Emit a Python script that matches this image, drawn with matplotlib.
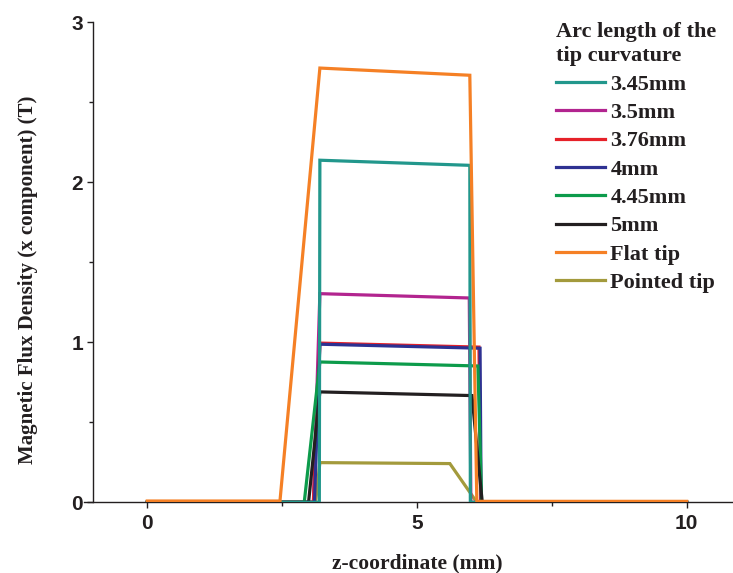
import matplotlib
matplotlib.use("Agg")
import matplotlib.pyplot as plt
from matplotlib.ticker import MultipleLocator

# ---- data ----
labels = ["3.45mm", "3.5mm", "3.76mm", "4mm", "4.45mm", "5mm", "Flat tip", "Pointed tip"]
colors = ["#22978c", "#b2248f", "#e62129", "#2e3192", "#0c9b4b", "#231f20", "#f58025", "#a39a3c"]

x_345 = [0, 3.19, 3.20, 5.98, 5.99, 10]
y_345 = [0, 0, 2.138, 2.106, 0, 0]
x_35 = [0, 3.08, 3.20, 5.97, 6.00, 10]
y_35 = [0, 0, 1.304, 1.277, 0, 0]
x_376 = [0, 3.08, 3.20, 6.15, 6.18, 10]
y_376 = [0, 0, 0.995, 0.970, 0, 0]
x_4 = [0, 3.10, 3.20, 6.17, 6.19, 10]
y_4 = [0, 0, 0.988, 0.963, 0, 0]
x_445 = [0, 2.91, 3.20, 6.13, 6.20, 10]
y_445 = [0, 0, 0.877, 0.852, 0, 0]
x_5 = [0, 2.99, 3.20, 6.02, 6.21, 10]
y_5 = [0, 0, 0.690, 0.667, 0, 0]
x_flat = [0, 2.46, 3.20, 5.98, 6.11, 10]
y_flat = [0.008, 0.008, 2.714, 2.669, 0.006, 0.006]
x_point = [0, 3.12, 3.20, 5.61, 6.11, 10]
y_point = [0, 0, 0.248, 0.242, 0, 0]

series_x = [x_345, x_35, x_376, x_4, x_445, x_5, x_flat, x_point]
series_y = [y_345, y_35, y_376, y_4, y_445, y_5, y_flat, y_point]
zorders = [4, 3, 3, 3.1, 3.2, 3.3, 5, 2.9]

W, H = 733, 573
fig = plt.figure(figsize=(W / 100, H / 100), dpi=100)
ax = fig.add_axes([84.3 / W, 70.7 / H, (W - 84.3) / W, 480 / H])

for xs, ys, c, lab, z in zip(series_x, series_y, colors, labels, zorders):
    ax.plot(xs, ys, color=c, lw=2.3, label=lab, zorder=z, solid_joinstyle="miter")

ax.set_xlim(-1.168, 10.86)
ax.set_ylim(0, 3)

for s in ["top", "right"]:
    ax.spines[s].set_visible(False)
ax.spines["left"].set_position(("data", -1.0))
for s in ["left", "bottom"]:
    ax.spines[s].set_linewidth(1.0)
    ax.spines[s].set_color("#231f20")

ax.xaxis.set_major_locator(MultipleLocator(5))
ax.xaxis.set_minor_locator(MultipleLocator(2.5))
ax.yaxis.set_major_locator(MultipleLocator(1))
ax.yaxis.set_minor_locator(MultipleLocator(0.5))
ax.tick_params(which="major", direction="out", length=4.5, width=1.0, color="#231f20")
ax.tick_params(which="minor", direction="out", length=3.0, width=1.0, color="#231f20")
ax.tick_params(axis="x", which="major", pad=4)
ax.tick_params(axis="y", which="major", pad=3)
for lbl in ax.get_xticklabels() + ax.get_yticklabels():
    lbl.set_fontfamily("Liberation Sans")
    lbl.set_fontweight("bold")
    lbl.set_fontsize(15)
    lbl.set_color("#231f20")

serif = "Liberation Serif"
ax.set_xlabel("z-coordinate (mm)", fontfamily=serif, fontweight="bold", fontsize=15.5, color="#231f20")
ax.xaxis.set_label_coords((417 - 84.3) / (W - 84.3), (10 - 70.7) / 480)
ax.xaxis.label.set_va("center")
ax.set_ylabel("Magnetic Flux Density (x component) (T)", fontfamily=serif, fontweight="bold",
              fontsize=15, color="#231f20")
ax.yaxis.set_label_coords((28 - 84.3) / (W - 84.3), (293 - 70.7) / 480)
ax.yaxis.label.set_va("center")

leg = ax.legend(loc="upper left", bbox_to_anchor=(556 / W, 1 - 22 / H), bbox_transform=fig.transFigure,
                frameon=False, title="Arc length of the\ntip curvature", alignment="left",
                prop={"family": serif, "weight": "bold", "size": 16},
                title_fontproperties={"family": serif, "weight": "bold", "size": 16},
                handlelength=2.2, handletextpad=0.25, labelspacing=0.35, borderpad=0, borderaxespad=0)
for t in leg.get_texts():
    t.set_color("#231f20")
leg.get_title().set_color("#231f20")
leg.get_title().set_linespacing(1.3)
for h in leg.legend_handles:
    h.set_linewidth(2.3)
leg.set_zorder(10)

fig.savefig("out.png", dpi=100)
